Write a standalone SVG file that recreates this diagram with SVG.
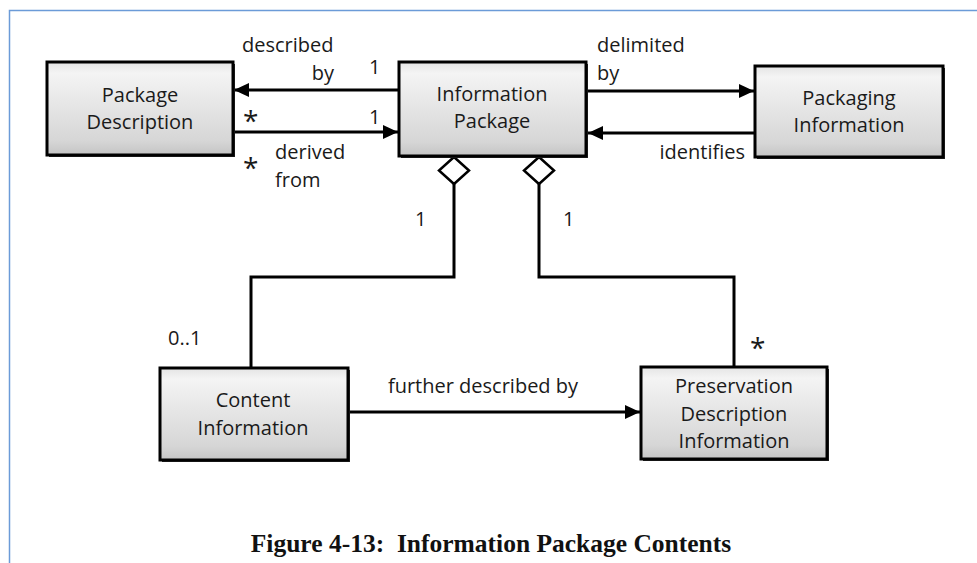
<svg xmlns="http://www.w3.org/2000/svg" width="977" height="563" viewBox="0 0 977 563">
<style>
.box{fill:url(#g);stroke:#000;stroke-width:3}
.sh{fill:#2a2a2a}
.t{font-family:"Open Sans","Liberation Sans",sans-serif;font-size:20px;fill:#1a1a1a}
.c{text-anchor:middle}
.ast{font-family:"Open Sans","Liberation Sans",sans-serif;font-size:28px;fill:#1a1a1a}
.ln{fill:none;stroke:#000;stroke-width:3}
.dia{fill:#fff;stroke:#000;stroke-width:2.5}
.title{font-family:"Liberation Serif","Times New Roman",serif;font-weight:bold;font-size:25.5px;fill:#111}
</style>
<defs>
<linearGradient id="g" x1="0" y1="0" x2="0" y2="1">
<stop offset="0" stop-color="#e4e4e4"/>
<stop offset="0.12" stop-color="#f4f4f4"/>
<stop offset="0.85" stop-color="#d6d6d6"/>
<stop offset="1" stop-color="#c4c4c4"/>
</linearGradient>
<marker id="arr" markerUnits="userSpaceOnUse" markerWidth="16" markerHeight="14" refX="15" refY="7" orient="auto">
<path d="M0,0 L15,7 L0,14 z" fill="#000"/>
</marker>
</defs>
<rect width="977" height="563" fill="#fff"/>
<path d="M9.5,563 V10.5 H977" fill="none" stroke="#6b9bd8" stroke-width="1.5"/>

<g id="connectors">
<line class="ln" x1="399" y1="90" x2="234" y2="90" marker-end="url(#arr)"/>
<line class="ln" x1="233" y1="132" x2="398" y2="132" marker-end="url(#arr)"/>
<line class="ln" x1="587" y1="91" x2="754" y2="91" marker-end="url(#arr)"/>
<line class="ln" x1="755" y1="133" x2="588" y2="133" marker-end="url(#arr)"/>
<line class="ln" x1="348" y1="412" x2="640" y2="412" marker-end="url(#arr)"/>
<polyline class="ln" points="454,184 454,277 251,277 251,368"/>
<polyline class="ln" points="539,184 539,277 734,277 734,367"/>
<polygon class="dia" points="454,157 469,170.5 454,184 439,170.5"/>
<polygon class="dia" points="539,157 554,170.5 539,184 524,170.5"/>
<text class="t" x="242" y="52">described</text>
<text class="t" x="334" y="80" text-anchor="end">by</text>
<text class="t" x="369" y="74">1</text>
<text class="t" x="369" y="124">1</text>
<text class="ast" x="243" y="131">*</text>
<text class="ast" x="243" y="178">*</text>
<text class="t" x="275" y="159">derived</text>
<text class="t" x="275" y="187">from</text>
<text class="t" x="597" y="52">delimited</text>
<text class="t" x="597" y="80">by</text>
<text class="t" x="745" y="159" text-anchor="end">identifies</text>
<text class="t" x="415" y="226">1</text>
<text class="t" x="563" y="226">1</text>
<text class="t" x="168" y="345">0..1</text>
<text class="ast" x="750" y="358">*</text>
<text class="t c" x="483" y="393">further described by</text>
</g>

<g id="package-description">
<rect class="sh" x="49" y="64" width="186" height="93"/>
<rect class="box" x="47" y="62" width="186" height="93"/>
<text class="t c" x="140" y="102">Package</text>
<text class="t c" x="140" y="129">Description</text>
</g>

<g id="information-package">
<rect class="sh" x="401" y="64" width="187" height="94"/>
<rect class="box" x="399" y="62" width="187" height="94"/>
<text class="t c" x="492" y="101">Information</text>
<text class="t c" x="492" y="128">Package</text>
</g>

<g id="packaging-information">
<rect class="sh" x="757" y="68" width="188" height="91"/>
<rect class="box" x="755" y="66" width="188" height="91"/>
<text class="t c" x="849" y="105">Packaging</text>
<text class="t c" x="849" y="132">Information</text>
</g>

<g id="content-information">
<rect class="sh" x="162" y="370" width="188" height="92"/>
<rect class="box" x="160" y="368" width="188" height="92"/>
<text class="t c" x="253" y="407">Content</text>
<text class="t c" x="253" y="435">Information</text>
</g>

<g id="preservation-description-information">
<rect class="sh" x="643" y="369" width="186" height="92"/>
<rect class="box" x="641" y="367" width="186" height="92"/>
<text class="t c" x="734" y="393">Preservation</text>
<text class="t c" x="734" y="421">Description</text>
<text class="t c" x="734" y="448">Information</text>
</g>

<text class="title" x="491" y="552" text-anchor="middle">Figure 4-13:&#160; Information Package Contents</text>
</svg>
